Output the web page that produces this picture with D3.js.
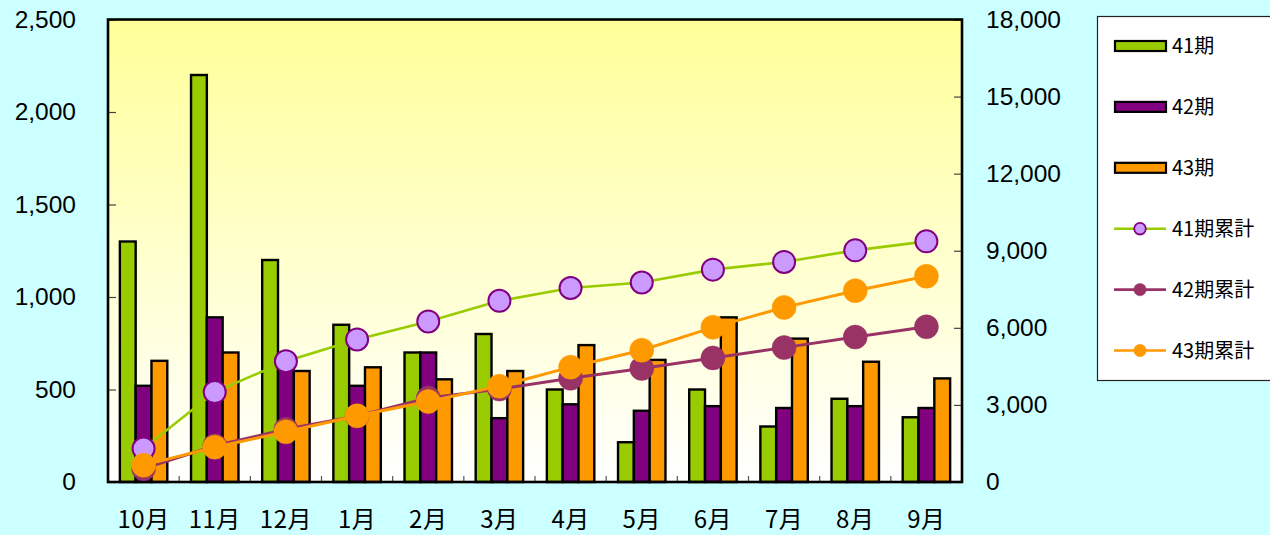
<!DOCTYPE html>
<html>
<head>
<meta charset="utf-8">
<script src="https://cdn.jsdelivr.net/npm/d3@7"></script>
<style>
  html, body { margin: 0; padding: 0; background: #CCFFFF; }
  svg { display: block; }
</style>
</head>
<body>
<svg id="chart" width="1270" height="535"></svg>
<script>
// Monthly figures per term (left axis) and running totals (right axis)
const months = ["10月", "11月", "12月", "1月", "2月", "3月", "4月", "5月", "6月", "7月", "8月", "9月"];
const barSeries = ["41期", "42期", "43期"];
const term41 = [1300, 2200, 1200, 850, 700, 800, 500, 215, 500, 300, 450, 350];
const term42 = [520, 890, 640, 520, 700, 345, 420, 385, 410, 400, 410, 400];
const term43 = [655, 700, 600, 620, 555, 600, 740, 660, 890, 775, 650, 560];
const lineSeries = ["41期累計", "42期累計", "43期累計"];
const cum41 = [1300, 3500, 4700, 5550, 6250, 7050, 7550, 7765, 8265, 8565, 9015, 9365];
const cum42 = [520, 1410, 2050, 2570, 3270, 3615, 4035, 4420, 4830, 5230, 5640, 6040];
const cum43 = [655, 1355, 1955, 2575, 3130, 3730, 4470, 5130, 6020, 6795, 7445, 8005];
const leftTicks = [0, 500, 1000, 1500, 2000, 2500];
const rightTicks = [0, 3000, 6000, 9000, 12000, 15000, 18000];

const barValues = [term41, term42, term43];
const lineValues = [cum41, cum42, cum43];
const barColors = ["#99CC00", "#800080", "#FF9900"];
const lineColors = ["#99CC00", "#993366", "#FF9900"];
const markerFill = ["#CC99FF", "#993366", "#FF9900"];
const markerStroke = ["#800080", "#993366", "#FF9900"];

const svg = d3.select("#chart");
const plot = { left: 108, right: 962, top: 19.5, bottom: 482 };

const x = d3.scaleBand().domain(months).range([plot.left, plot.right]).padding(0);
const xs = d3.scaleBand().domain(barSeries).range([0, x.bandwidth()])
  .paddingInner(0).paddingOuter(0.75);
const yL = d3.scaleLinear().domain([0, 2500]).range([plot.bottom, plot.top]);
const yR = d3.scaleLinear().domain([0, 18000]).range([plot.bottom, plot.top]);

// Plot area with a yellow-to-white vertical gradient
const defs = svg.append("defs");
const grad = defs.append("linearGradient").attr("id", "plotFill")
  .attr("x1", 0).attr("y1", 0).attr("x2", 0).attr("y2", 1);
grad.append("stop").attr("offset", "0%").attr("stop-color", "#FFFF99");
grad.append("stop").attr("offset", "100%").attr("stop-color", "#FFFFFF");

svg.append("rect")
  .attr("x", plot.left).attr("y", plot.top)
  .attr("width", plot.right - plot.left).attr("height", plot.bottom - plot.top)
  .attr("fill", "url(#plotFill)");

// Category separators along the bottom
const fmt = d3.format(",");
const catTicks = svg.append("g");
months.forEach((m, i) => {
  if (i === 0) return;
  const xx = x(m);
  catTicks.append("line")
    .attr("x1", xx).attr("x2", xx)
    .attr("y1", plot.bottom).attr("y2", plot.bottom - 6)
    .attr("stroke", "#555").attr("stroke-width", 1.2);
});

// Left axis
const axL = d3.axisLeft(yL).tickValues(leftTicks).tickFormat(fmt).tickSize(-8).tickPadding(32);
const gL = svg.append("g").attr("transform", `translate(${plot.left},0)`).call(axL);
gL.select(".domain").remove();
gL.selectAll(".tick line").attr("stroke", "#444").attr("stroke-width", 1.2);
gL.selectAll(".tick text")
  .attr("font-family", "'Liberation Sans', Arial, sans-serif")
  .attr("font-size", 24.5).attr("fill", "#000");

// Right axis
const axR = d3.axisRight(yR).tickValues(rightTicks).tickFormat(fmt).tickSize(-8).tickPadding(24);
const gR = svg.append("g").attr("transform", `translate(${plot.right},0)`).call(axR);
gR.select(".domain").remove();
gR.selectAll(".tick line").attr("stroke", "#444").attr("stroke-width", 1.2);
gR.selectAll(".tick text")
  .attr("font-family", "'Liberation Sans', Arial, sans-serif")
  .attr("font-size", 24.5).attr("fill", "#000");

// Bars
barSeries.forEach((s, si) => {
  svg.append("g").selectAll("rect")
    .data(barValues[si])
    .join("rect")
    .attr("x", (d, i) => x(months[i]) + xs(s))
    .attr("y", d => yL(d))
    .attr("width", xs.bandwidth())
    .attr("height", d => yL(0) - yL(d))
    .attr("fill", barColors[si])
    .attr("stroke", "#000")
    .attr("stroke-width", 2.4);
});

// Plot frame
svg.append("rect")
  .attr("x", plot.left).attr("y", plot.top)
  .attr("width", plot.right - plot.left).attr("height", plot.bottom - plot.top)
  .attr("fill", "none").attr("stroke", "#000").attr("stroke-width", 2.6);

// Cumulative lines with markers
const line = d3.line()
  .x((d, i) => x(months[i]) + x.bandwidth() / 2)
  .y(d => yR(d));

lineSeries.forEach((s, si) => {
  const g = svg.append("g");
  g.append("path")
    .datum(lineValues[si])
    .attr("d", line)
    .attr("fill", "none")
    .attr("stroke", lineColors[si])
    .attr("stroke-width", si === 0 ? 2.6 : 3);
  g.selectAll("circle")
    .data(lineValues[si])
    .join("circle")
    .attr("cx", (d, i) => x(months[i]) + x.bandwidth() / 2)
    .attr("cy", d => yR(d))
    .attr("r", si === 0 ? 11 : 12)
    .attr("fill", markerFill[si])
    .attr("stroke", markerStroke[si])
    .attr("stroke-width", si === 0 ? 2 : 0.5);
});

// Month labels
const axB = d3.axisBottom(x).tickSize(0).tickPadding(0);
const gB = svg.append("g").attr("transform", `translate(0,${plot.bottom})`).call(axB);
gB.select(".domain").remove();
gB.selectAll(".tick text")
  .attr("y", 45.5).attr("dy", null)
  .attr("font-family", "'Noto Sans CJK JP', 'Noto Sans', sans-serif")
  .attr("font-size", 24).attr("letter-spacing", 0.5).attr("fill", "#000");

// Legend
const legend = svg.append("g");
legend.append("rect")
  .attr("x", 1097.5).attr("y", 16.5).attr("width", 185).attr("height", 364)
  .attr("fill", "#FFFFFF").attr("stroke", "#222").attr("stroke-width", 1.2);

const legendItems = barSeries.map((s, i) => ({ type: "bar", label: s, i }))
  .concat(lineSeries.map((s, i) => ({ type: "line", label: s, i })));
const ly = d3.scaleLinear().domain([0, 5]).range([46, 350.5]);

legendItems.forEach((it, k) => {
  const cy = ly(k);
  if (it.type === "bar") {
    legend.append("rect")
      .attr("x", 1115).attr("y", cy - 5)
      .attr("width", 51).attr("height", 10)
      .attr("fill", barColors[it.i]).attr("stroke", "#000").attr("stroke-width", 2.2);
  } else {
    legend.append("line")
      .attr("x1", 1114).attr("x2", 1166).attr("y1", cy).attr("y2", cy)
      .attr("stroke", lineColors[it.i]).attr("stroke-width", 2.6);
    legend.append("circle")
      .attr("cx", 1140).attr("cy", cy).attr("r", it.i === 0 ? 5.8 : 6.2)
      .attr("fill", markerFill[it.i]).attr("stroke", markerStroke[it.i])
      .attr("stroke-width", it.i === 0 ? 1.8 : 0.5);
  }
  legend.append("text")
    .attr("x", 1172).attr("y", cy).attr("dy", "0.35em")
    .attr("font-family", "'Noto Sans CJK JP', 'Noto Sans', sans-serif")
    .attr("font-size", 20).attr("fill", "#000")
    .text(it.label);
});
</script>
</body>
</html>
